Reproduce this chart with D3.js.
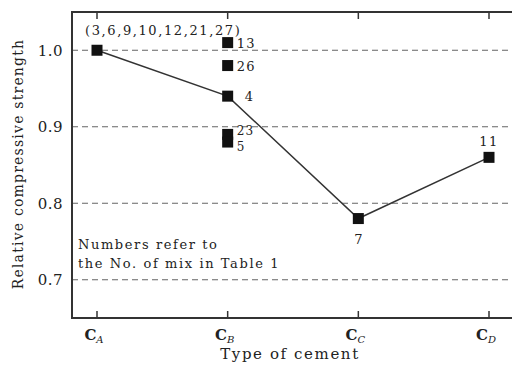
<!DOCTYPE html>
<html>
<head>
<meta charset="utf-8">
<script src="https://cdn.jsdelivr.net/npm/d3@7"></script>
<style>
  body { margin: 0; background: #fff; }
  text { font-family: "DejaVu Serif", "Liberation Serif", serif; fill: #222; }
</style>
</head>
<body>
<div id="chart"></div>
<script>
// Data
var cements = ["A", "B", "C", "D"];
var lineValues = [1.0, 0.94, 0.78, 0.86];
var lineLabels = ["(3,6,9,10,12,21,27)", "4", "7", "11"];
var extraCement = ["B", "B", "B", "B"];
var extraValues = [1.01, 0.98, 0.89, 0.88];
var extraLabels = ["13", "26", "23", "5"];
var yTicks = [0.7, 0.8, 0.9, 1.0];

// SVG
var svgWidth = 512, svgHeight = 365;
var margin = { top: 12, right: 0, bottom: 47, left: 72 };

var svg = d3.select("#chart").append("svg")
    .attr("width", svgWidth)
    .attr("height", svgHeight);

var x = d3.scalePoint()
    .domain(cements)
    .range([97, 489]);

var y = d3.scaleLinear()
    .domain([0.65, 1.05])
    .range([svgHeight - margin.bottom, margin.top]);

// gridlines
svg.append("g").selectAll("line")
    .data(yTicks)
    .enter().append("line")
    .attr("x1", margin.left)
    .attr("x2", svgWidth)
    .attr("y1", d => y(d))
    .attr("y2", d => y(d))
    .attr("stroke", "#666")
    .attr("stroke-width", 1.2)
    .attr("stroke-dasharray", "6,4");

// frame
var bottom = svgHeight - margin.bottom;
svg.append("path")
    .attr("d", "M" + svgWidth + "," + margin.top + "H" + margin.left + "V" + bottom + "H" + svgWidth)
    .attr("fill", "none")
    .attr("stroke", "#333")
    .attr("stroke-width", 2);

// x ticks (bottom and top, inward)
svg.append("g").selectAll("line")
    .data(cements)
    .enter().append("line")
    .attr("x1", d => x(d)).attr("x2", d => x(d))
    .attr("y1", bottom).attr("y2", bottom - 7)
    .attr("stroke", "#333").attr("stroke-width", 1.5);

svg.append("g").selectAll("line")
    .data(cements)
    .enter().append("line")
    .attr("x1", d => x(d)).attr("x2", d => x(d))
    .attr("y1", margin.top).attr("y2", margin.top + 7)
    .attr("stroke", "#333").attr("stroke-width", 1.5);

// x tick labels
var xl = svg.append("g").selectAll("text")
    .data(cements)
    .enter().append("text")
    .attr("x", d => x(d) - 3)
    .attr("y", 340)
    .attr("text-anchor", "middle")
    .attr("font-size", 15)
    .attr("font-weight", "bold");
xl.append("tspan").text("C");
xl.append("tspan")
    .attr("font-size", 10)
    .attr("font-style", "italic")
    .attr("font-weight", "normal")
    .attr("dy", 3)
    .text(d => d);

// y tick labels
svg.append("g").selectAll("text")
    .data(yTicks)
    .enter().append("text")
    .attr("x", 63)
    .attr("y", d => y(d))
    .attr("dy", "0.35em")
    .attr("text-anchor", "end")
    .attr("font-size", 15)
    .attr("letter-spacing", 0.5)
    .text(d => d.toFixed(1));

// axis titles
svg.append("text")
    .attr("x", 290)
    .attr("y", 359)
    .attr("text-anchor", "middle")
    .attr("font-size", 15)
    .attr("letter-spacing", 1.6)
    .text("Type of cement");

svg.append("text")
    .attr("transform", "translate(23," + 164 + ") rotate(-90)")
    .attr("text-anchor", "middle")
    .attr("font-size", 14)
    .attr("letter-spacing", 1.2)
    .text("Relative compressive strength");

// line
var line = d3.line()
    .x((d, i) => x(cements[i]))
    .y(d => y(d));

svg.append("path")
    .datum(lineValues)
    .attr("d", line)
    .attr("fill", "none")
    .attr("stroke", "#333")
    .attr("stroke-width", 1.5);

// markers
var s = 11;
svg.append("g").selectAll("rect")
    .data(lineValues)
    .enter().append("rect")
    .attr("x", (d, i) => x(cements[i]) - s / 2)
    .attr("y", d => y(d) - s / 2)
    .attr("width", s).attr("height", s)
    .attr("fill", "#111");

svg.append("g").selectAll("rect")
    .data(extraValues)
    .enter().append("rect")
    .attr("x", (d, i) => x(extraCement[i]) - s / 2)
    .attr("y", d => y(d) - s / 2)
    .attr("width", s).attr("height", s)
    .attr("fill", "#111");

// point labels
var lineLabelPos = [
    { dx: -12, dy: -15, anchor: "start", ls: 1.6 },
    { dx: 17, dy: 5, anchor: "start", ls: 0 },
    { dx: 0, dy: 25, anchor: "middle", ls: 0 },
    { dx: 0, dy: -11, anchor: "middle", ls: 1.5 }
];
svg.append("g").selectAll("text")
    .data(lineLabels)
    .enter().append("text")
    .attr("x", (d, i) => x(cements[i]) + lineLabelPos[i].dx)
    .attr("y", (d, i) => y(lineValues[i]) + lineLabelPos[i].dy)
    .attr("text-anchor", (d, i) => lineLabelPos[i].anchor)
    .attr("letter-spacing", (d, i) => lineLabelPos[i].ls)
    .attr("font-size", 13)
    .text(d => d);

var extraDy = [5, 5, 1, 9];
var extraSize = [13, 13, 12, 12];
svg.append("g").selectAll("text")
    .data(extraLabels)
    .enter().append("text")
    .attr("x", (d, i) => x(extraCement[i]) + 9)
    .attr("y", (d, i) => y(extraValues[i]) + extraDy[i])
    .attr("font-size", (d, i) => extraSize[i])
    .attr("letter-spacing", 1.2)
    .text(d => d);

// note
var note = svg.append("text")
    .attr("x", 78)
    .attr("y", 249)
    .attr("font-size", 13)
    .attr("letter-spacing", 1.6);
note.append("tspan").text("Numbers refer to");
note.append("tspan").attr("x", 78).attr("dy", 19).text("the No. of mix in Table 1");
</script>
</body>
</html>
